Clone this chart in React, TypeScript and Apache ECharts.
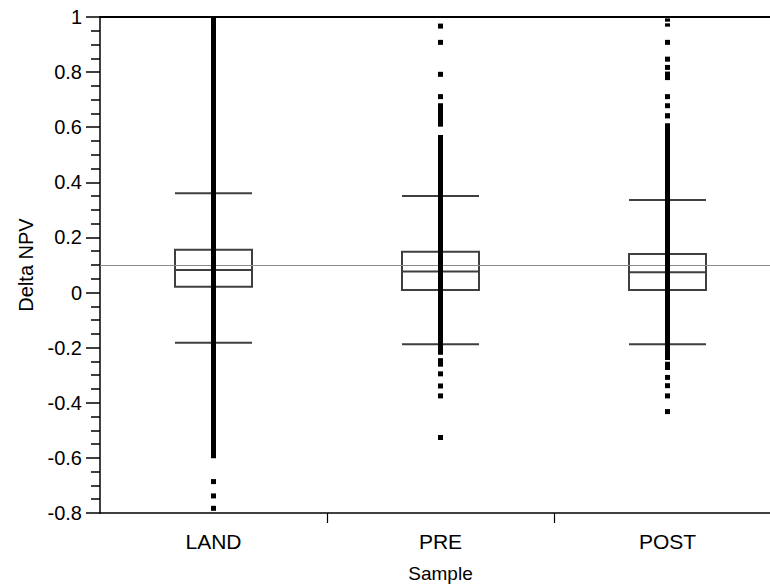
import React, { useEffect, useRef } from "react";
import * as echarts from "echarts";

// Categories
const categories: string[] = ["LAND", "PRE", "POST"];

// Box statistics: [lower whisker, Q1, median, Q3, upper whisker]
const boxLAND: number[] = [-0.182, 0.021, 0.082, 0.155, 0.36];
const boxPRE: number[] = [-0.188, 0.009, 0.076, 0.148, 0.35];
const boxPOST: number[] = [-0.188, 0.009, 0.074, 0.14, 0.336];

// Dense runs of observations (drawn as solid bars): [category, low, high]
const denseLAND: [string, number, number][] = [["LAND", -0.601, 1.0]];
const densePRE: [string, number, number][] = [
  ["PRE", -0.226, 0.572],
  ["PRE", 0.602, 0.687],
  ["PRE", -0.269, -0.238],
];
const densePOST: [string, number, number][] = [
  ["POST", -0.245, 0.614],
  ["POST", 0.632, 0.651],
  ["POST", 0.669, 0.687],
  ["POST", 0.771, 0.802],
  ["POST", 0.808, 0.826],
  ["POST", 0.965, 0.977],
  ["POST", 0.983, 0.995],
  ["POST", -0.281, -0.251],
  ["POST", -0.317, -0.299],
  ["POST", -0.347, -0.329],
];

// Isolated observations
const pointsLAND: number[] = [-0.686, -0.738, -0.783];
const pointsPRE: number[] = [0.967, 0.908, 0.792, 0.711, -0.295, -0.339, -0.375, -0.526];
const pointsPOST: number[] = [0.908, 0.847, 0.711, -0.375, -0.432];

// Reference (grand mean) line
const meanLine = 0.097;

// Axis
const yMin = -0.8;
const yMax = 1;
const yInterval = 0.2;

const FONT = "'Liberation Sans', Arial, Helvetica, sans-serif";

export default function App() {
  const ref = useRef<HTMLDivElement>(null);

  useEffect(() => {
    document.body.style.margin = "0";
    if (!ref.current) return;
    const chart = echarts.init(ref.current, undefined, { renderer: "svg" });

    const dense = [...denseLAND, ...densePRE, ...densePOST];
    const points = [
      ...pointsLAND.map((v) => ["LAND", v]),
      ...pointsPRE.map((v) => ["PRE", v]),
      ...pointsPOST.map((v) => ["POST", v]),
    ];

    chart.setOption({
      animation: false,
      backgroundColor: "#fff",
      grid: {
        left: 100,
        top: 17,
        right: 9,
        bottom: 74,
        show: false,
        containLabel: false,
        outerBoundsMode: "none",
      },
      xAxis: [
        {
          type: "category",
          data: categories,
          boundaryGap: true,
          name: "Sample",
          nameLocation: "middle",
          nameGap: 51,
          nameTextStyle: { fontFamily: FONT, fontSize: 19, color: "#000" },
          axisLine: { onZero: false, lineStyle: { color: "#000", width: 1.5 } },
          axisTick: {
            show: true,
            length: 10,
            alignWithLabel: false,
            interval: (i: number) => i > 0,
            lineStyle: { color: "#000", width: 1.2 },
          },
          axisLabel: { margin: 18, fontFamily: FONT, fontSize: 21, color: "#000" },
          splitLine: { show: false },
        },
        {
          type: "category",
          data: categories,
          position: "top",
          axisLine: { onZero: false, lineStyle: { color: "#000", width: 2 } },
          axisTick: { show: false },
          axisLabel: { show: false },
          splitLine: { show: false },
        },
      ],
      yAxis: {
        type: "value",
        min: yMin,
        max: yMax,
        interval: yInterval,
        name: "Delta NPV",
        nameLocation: "middle",
        nameGap: 64,
        nameTextStyle: { fontFamily: FONT, fontSize: 20, color: "#000" },
        axisLine: { show: true, lineStyle: { color: "#000", width: 1.5 } },
        axisTick: { show: true, length: 14, lineStyle: { color: "#000", width: 1.5 } },
        minorTick: { show: true, splitNumber: 4, length: 9, lineStyle: { color: "#000", width: 1.5 } },
        axisLabel: { margin: 18, fontFamily: FONT, fontSize: 20, color: "#000" },
        splitLine: { show: false },
      },
      series: [
        {
          type: "boxplot",
          data: [boxLAND, boxPRE, boxPOST],
          boxWidth: [77, 77],
          itemStyle: { color: "transparent", borderColor: "#3f3f3f", borderWidth: 2 },
          z: 2,
          silent: true,
        },
        {
          type: "custom",
          data: dense,
          encode: { x: 0, y: [1, 2] },
          renderItem: (params: any, api: any) => {
            const c = api.value(0);
            const lo = api.coord([c, api.value(1)]);
            const hi = api.coord([c, api.value(2)]);
            return {
              type: "rect",
              shape: { x: lo[0] - 2.5, y: hi[1], width: 5, height: Math.max(lo[1] - hi[1], 2) },
              style: { fill: "#000" },
            };
          },
          z: 4,
          silent: true,
        },
        {
          type: "scatter",
          data: points,
          symbol: "rect",
          symbolSize: 5,
          itemStyle: { color: "#000", opacity: 1 },
          z: 4,
          silent: true,
          markLine: {
            silent: true,
            symbol: ["none", "none"],
            label: { show: false },
            lineStyle: { color: "#8a8a8a", width: 1.2, type: "solid" },
            data: [{ yAxis: meanLine }],
            z: 3,
          },
        },
      ],
    });

    return () => chart.dispose();
  }, []);

  return (
    <div style={{ width: 770, height: 587, overflow: "hidden", position: "relative" }}>
      <div ref={ref} style={{ width: 790, height: 587 }} />
    </div>
  );
}
